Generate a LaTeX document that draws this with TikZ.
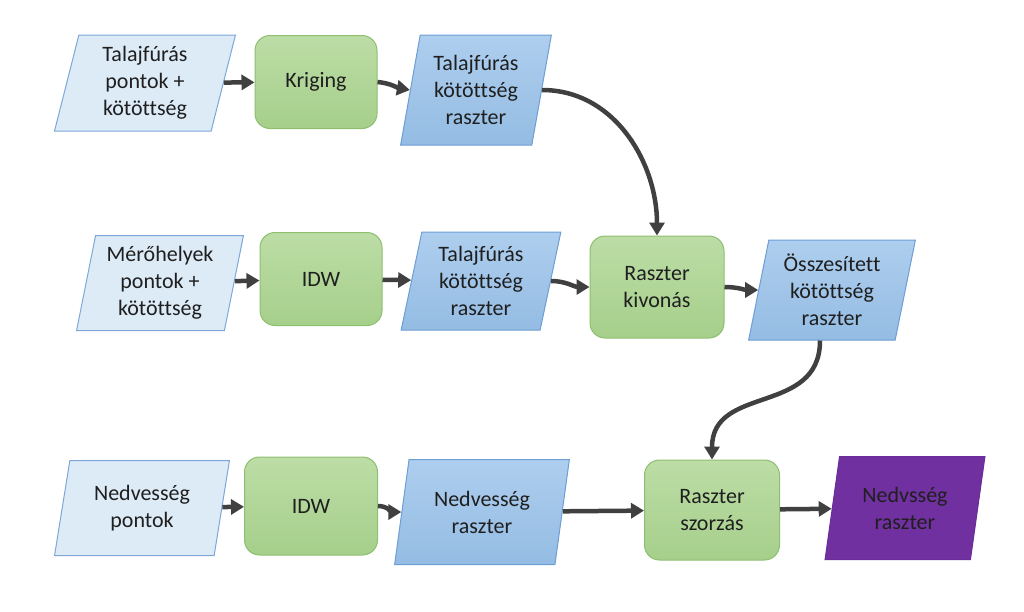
\documentclass[tikz,border=0pt]{standalone}
\usepackage{fontspec}
\setmainfont{Carlito}[Ligatures=NoCommon]
\usetikzlibrary{shapes.geometric,arrows.meta}
\definecolor{inblue}{HTML}{DDEBF7}
\definecolor{inedge}{HTML}{7DA7D9}
\definecolor{rastop}{HTML}{AECEEE}
\definecolor{rasbot}{HTML}{94BCE3}
\definecolor{rasedge}{HTML}{6D9ED4}
\definecolor{proctop}{HTML}{BCDDA6}
\definecolor{procbot}{HTML}{A6CF8B}
\definecolor{procedge}{HTML}{8DBF6F}
\definecolor{outpurple}{HTML}{7030A0}
\definecolor{outedge}{HTML}{6A2E99}
\definecolor{flowgray}{HTML}{404040}
\definecolor{txt}{HTML}{1F1F1F}

\begin{document}
\begin{tikzpicture}[x=1pt, y=-1pt, node distance={160pt}, font=\fontsize{22}{27}\selectfont, text=txt,
  data/.style = {shape=trapezium, trapezium left angle=78, trapezium right angle=102, trapezium stretches=true, align=center, line width=1pt, inner sep=2pt, minimum width=170pt, minimum height=96pt},
  input/.style = {data, draw=inedge, fill=inblue},
  raster/.style = {data, draw=rasedge, top color=rastop, bottom color=rasbot},
  result/.style = {data, draw=outedge, fill=outpurple},
  proc/.style = {draw=procedge, line width=1pt, rounded corners=15pt, top color=proctop, bottom color=procbot, align=center, minimum width=122pt, minimum height=93pt},
  flow/.style = {line width=4.5pt, draw=flowgray, -{Triangle[length=13pt,width=15pt]}}]
\useasboundingbox (0,0) rectangle (1024,611);
% first row
\node[input, minimum width=181pt] (1) at (145,83) {Talajfúrás\\pontok +\\kötöttség};
\node[proc] (2) [right of=1, xshift=11pt, yshift=1pt] {Kriging};
\node[raster, minimum width=151pt, minimum height=110pt] (3) [right of=2, yshift=-8pt] {Talajfúrás\\kötöttség\\raszter};
% second row
\node[input, minimum width=167pt, minimum height=95pt] (4) at (160,283) {Mérőhelyek\\pontok +\\kötöttség};
\node[proc] (5) [right of=4, xshift=1pt, yshift=4pt] {IDW};
\node[raster, minimum width=160pt, minimum height=98pt] (6) [right of=5, yshift=-2pt] {Talajfúrás\\kötöttség\\raszter};
\node[proc, minimum width=134pt, minimum height=102pt] (7) [right of=6, xshift=16pt, yshift=-6pt] {Raszter\\kivonás};
\node[raster, minimum width=167pt, minimum height=100pt] (8) [right of=7, xshift=15pt, yshift=-3pt] {Összesített\\kötöttség\\raszter};
% third row
\node[input, minimum width=175pt, minimum height=95pt] (9) at (142,508) {Nedvesség\\pontok};
\node[proc, minimum width=133pt, minimum height=98pt] (10) [right of=9, xshift=9pt, yshift=2pt] {IDW};
\node[raster, minimum width=175pt, minimum height=105pt] (11) [right of=10, xshift=11pt, yshift=-6pt] {Nedvesség\\raszter};
\node[proc, minimum width=135pt, minimum height=100pt] (12) [right of=11, xshift=70pt, yshift=2pt] {Raszter\\szorzás};
\node[result, minimum width=160pt, minimum height=103pt] (13) [right of=12, xshift=33pt, yshift=2pt] {Nedvsség\\raszter};
\draw[flow] (1) -- (2);
\draw[flow] (2.east) to[out=-5, in=170] (3.west);
\draw[flow] (3.east) to[out=0, in=90] (7.north);
\draw[flow] (4) -- (5);
\draw[flow] (5) -- (6);
\draw[flow] (6.east) to[out=0, in=180] (7.west);
\draw[flow] (7.east) to[out=0, in=180] (8.west);
\draw[flow] ([xshift=-12pt]8.south) to[out=-90, in=90, looseness=1.2] (12.north);
\draw[flow] (9) -- (10);
\draw[flow] (10.east) to[out=0, in=180] (11.west);
\draw[flow] (11) -- (12);
\draw[flow] (12) -- (13);
\end{tikzpicture}
\end{document}
